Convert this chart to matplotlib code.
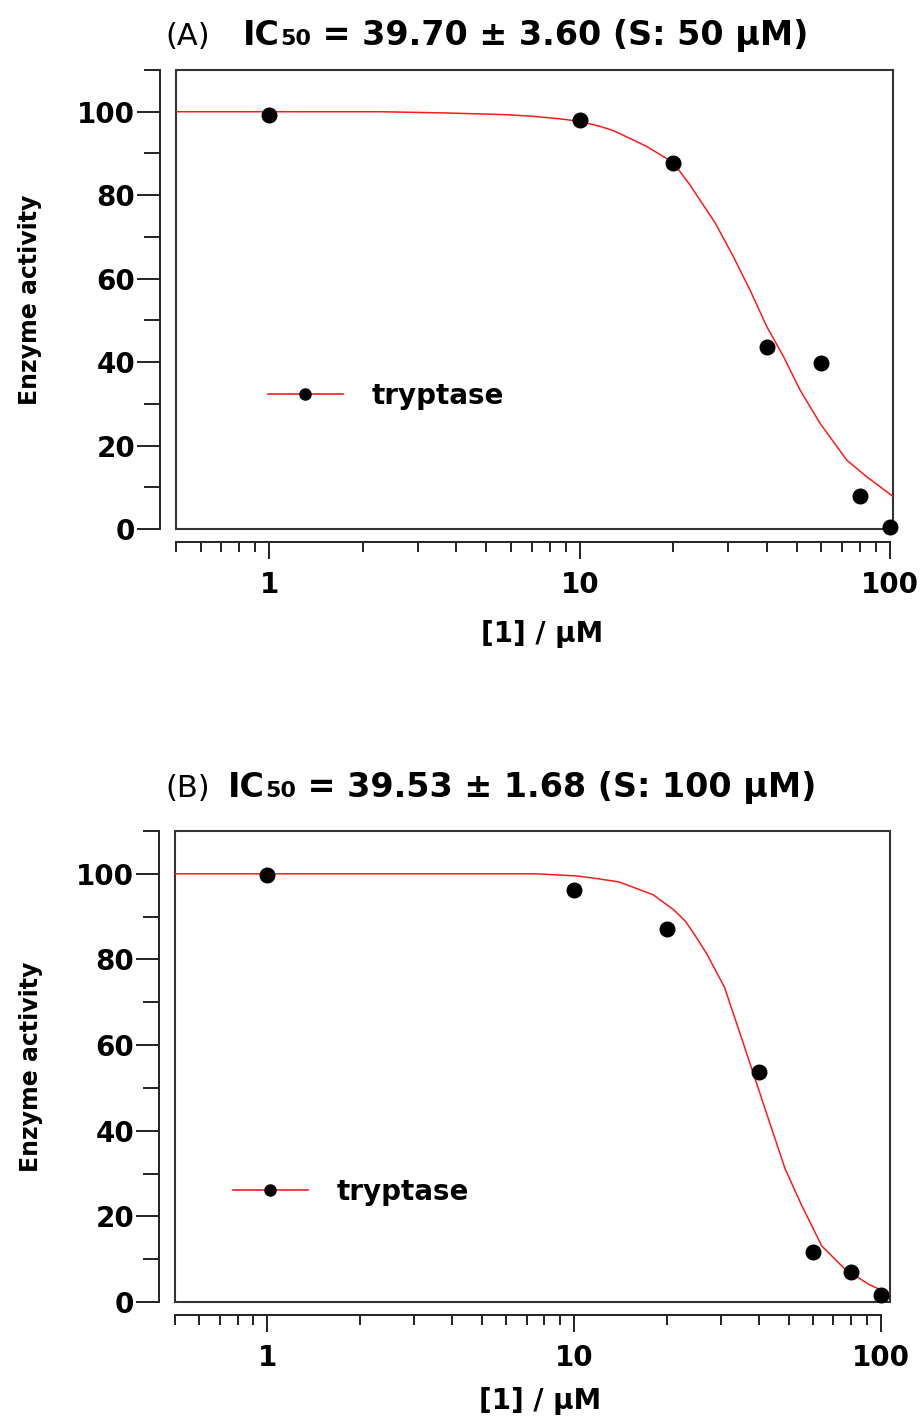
import matplotlib
matplotlib.use("Agg")
import matplotlib.pyplot as plt
from matplotlib.lines import Line2D
from matplotlib.patches import Rectangle
from matplotlib.ticker import FixedLocator, FixedFormatter, LogLocator, NullFormatter, MultipleLocator

plt.rcParams["font.family"] = ["DejaVu Sans"]
plt.rcParams["font.weight"] = "bold"

# measured points, panel A (S: 50 uM)
conc_a = [1, 10, 20, 40, 60, 80, 100]
act_a = [99.3, 98.0, 87.8, 43.6, 39.8, 7.9, 0.5]
# fitted curve
fit_x_a = [0.5, 2.27, 3.73, 5.74, 7.07, 8.63, 9.98, 11.6, 12.8, 16.4, 20.0, 22.6, 27.3,
           31.2, 35.3, 40.0, 45.3, 51.2, 59.4, 72.4, 84.0, 102]
fit_y_a = [100, 100, 99.7, 99.3, 98.9, 98.3, 97.7, 96.5, 95.5, 91.7, 87.8, 82.5, 73.3,
           65.3, 57.3, 48.5, 41.3, 33.3, 25.3, 16.5, 12.5, 7.8]

# measured points, panel B (S: 100 uM)
conc_b = [1, 10, 20, 40, 60, 80, 100]
act_b = [99.8, 96.2, 87.1, 53.6, 11.7, 7.0, 1.7]
fit_x_b = [0.5, 7.5, 10.2, 12.1, 14.0, 18.1, 21.1, 23.0, 25.1, 27.2, 30.9, 35.1, 38.8,
           42.9, 48.7, 55.2, 64.1, 76.5, 91.4, 104.9, 107]
fit_y_b = [100, 100, 99.5, 98.8, 98.1, 95.1, 91.6, 89.0, 85.0, 81.0, 73.5, 61.7, 52.3,
           42.9, 31.1, 22.5, 13.1, 7.6, 4.1, 2.1, 1.9]

x_ticks = [1, 10, 100]
x_tick_labels = ["1", "10", "100"]
series_label = "tryptase"
panel_labels = ["(A)", "(B)"]
titles = [("39.70", "3.60", "50"), ("39.53", "1.68", "100")]


def draw_panel(fig, rect, xmax, conc, act, fit_x, fit_y, leg_xy, xlabel_y, ylabel_x,
               tag, title, tag_y, ic_x):
    ax = fig.add_axes(rect)
    ax.plot(fit_x, fit_y, color="#ff1a1a", lw=1.1, zorder=3)
    ax.plot(conc, act, ls="none", marker="o", ms=10.5, color="black", zorder=4, clip_on=False)
    ax.set_xscale("log")
    ax.set_xlim(0.5, xmax)
    ax.set_ylim(0, 110)

    ax.xaxis.set_major_locator(FixedLocator(x_ticks))
    ax.xaxis.set_major_formatter(FixedFormatter(x_tick_labels))
    ax.xaxis.set_minor_locator(LogLocator(base=10, subs=range(2, 10)))
    ax.xaxis.set_minor_formatter(NullFormatter())
    ax.yaxis.set_major_locator(MultipleLocator(20))
    ax.yaxis.set_minor_locator(FixedLocator([10, 30, 50, 70, 90, 110]))

    for side in ["top", "right"]:
        ax.spines[side].set_visible(False)
    ax.spines["left"].set_position(("outward", 11.5))
    ax.spines["bottom"].set_position(("outward", 9.5))
    ax.spines["bottom"].set_bounds(0.5, 100)
    for side in ["left", "bottom"]:
        ax.spines[side].set_linewidth(1.4)
        ax.spines[side].set_color("#222222")
    ax.add_patch(Rectangle((0, 0), 1, 1, transform=ax.transAxes, fill=False,
                           lw=1.5, ec="#333333", clip_on=False, zorder=2))

    ax.tick_params(axis="y", which="major", length=16.5, width=1.4, pad=1.5,
                   labelsize=20, color="#222222")
    ax.tick_params(axis="y", which="minor", length=11.5, width=1.4, color="#222222")
    ax.tick_params(axis="x", which="major", length=12, width=1.4, pad=9,
                   labelsize=20, color="#222222")
    ax.tick_params(axis="x", which="minor", length=7, width=1.4, color="#222222")

    ax.set_xlabel("[1] / µM", fontsize=20, fontweight="bold")
    ax.xaxis.set_label_coords(0.51, xlabel_y)
    ax.set_ylabel("Enzyme activity", fontsize=17, fontweight="bold")
    ax.yaxis.set_label_coords(ylabel_x, 0.5)

    handle = Line2D([], [], color="#ff1a1a", lw=1.2, marker="o", ms=8,
                    mfc="black", mec="black")
    ax.legend([handle], [series_label], loc="center left", bbox_to_anchor=leg_xy,
              frameon=False, borderpad=0, borderaxespad=0, handlelength=2.7,
              handletextpad=1.05, prop={"size": 20, "weight": "bold"})

    ic50, err, sub = title
    fig.text(165 / 922, tag_y, tag, fontsize=22, fontweight="normal", va="baseline")
    t_ic = fig.text(ic_x / 922, tag_y, "IC", fontsize=24, fontweight="bold", va="baseline")
    t_sub = ax.annotate("50", xy=(1, 0), xycoords=t_ic, xytext=(0, 2.5),
                        textcoords="offset points", fontsize=16, fontweight="bold",
                        va="bottom", ha="left", annotation_clip=False)
    ax.annotate(f" = {ic50} ± {err} (S: {sub} µM)", xy=(1, 0), xycoords=(t_sub, t_ic),
                fontsize=24, fontweight="bold", va="bottom", ha="left",
                annotation_clip=False)
    return ax


def main() -> None:
    fig = plt.figure(figsize=(9.22, 14.28), dpi=100)
    draw_panel(fig, [176 / 922, 1 - 529 / 1428, 717 / 922, 459 / 1428], 102,
               conc_a, act_a, fit_x_a, fit_y_a, (0.128, 0.29), -0.198, -0.187,
               panel_labels[0], titles[0], 1 - 45 / 1428, 243)
    draw_panel(fig, [175 / 922, 1 - 1302 / 1428, 715 / 922, 471 / 1428], 107,
               conc_b, act_b, fit_x_b, fit_y_b, (0.081, 0.234), -0.180, -0.185,
               panel_labels[1], titles[1], 1 - 797 / 1428, 228)
    fig.savefig("out.png", dpi=100)
    plt.close(fig)


if __name__ == "__main__":
    main()
